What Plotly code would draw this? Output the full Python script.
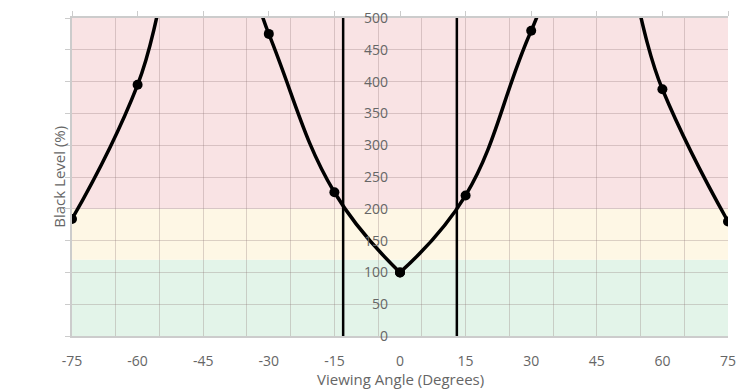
import plotly.graph_objects as go

angles = [-75, -60, -45, -30, -15, 0, 15, 30, 45, 60, 75]
black_level = [184, 395, 740, 475, 226, 100, 221, 480, 690, 388, 180]
cutoff_angles = [-13, 13]
x_ticks = [-75, -60, -45, -30, -15, 0, 15, 30, 45, 60, 75]
y_ticks = [0, 50, 100, 150, 200, 250, 300, 350, 400, 450, 500]
bands = [(0, 120, "#e3f4e9"), (120, 200, "#fef7e5"), (200, 500, "#f9e3e4")]

fig = go.Figure()

for y0, y1, col in bands:
    fig.add_shape(type="rect", xref="x", yref="y", x0=-75, x1=75, y0=y0, y1=y1,
                  fillcolor=col, line_width=0, layer="below")

for xa in cutoff_angles:
    fig.add_trace(go.Scatter(x=[xa, xa], y=[0, 500], mode="lines",
                             line=dict(color="black", width=2.5),
                             showlegend=False, hoverinfo="skip", cliponaxis=True))

mid = angles.index(0)
for sl in (slice(0, mid + 1), slice(mid, None)):
    fig.add_trace(go.Scatter(x=angles[sl], y=black_level[sl], mode="lines+markers",
                             line=dict(color="black", width=3.5, shape="spline", smoothing=1.2),
                             marker=dict(color="black", size=10),
                             showlegend=False, cliponaxis=True))

# invisible trace for top / left tick axes
fig.add_trace(go.Scatter(x=[-75, 75], y=[0, 0], xaxis="x2", yaxis="y2",
                         mode="markers", marker=dict(opacity=0), showlegend=False,
                         hoverinfo="skip"))

grid_col = "rgba(140,115,115,0.3)"
fig.update_layout(
    width=748, height=382,
    margin=dict(l=64, r=28, t=10, b=54, autoexpand=False),
    paper_bgcolor="white", plot_bgcolor="white",
    font=dict(family="Open Sans", color="#666666", size=14),
    xaxis=dict(range=[-75, 75], tickvals=x_ticks, ticktext=[str(v) for v in x_ticks],
               showgrid=False, zeroline=False, showline=True, linecolor="#cccccc",
               linewidth=1.5, ticks="", ticklabelstandoff=11, automargin=False,
               tickfont=dict(size=14, color="#666666"),
               minor=dict(tick0=-75, dtick=10, showgrid=True, gridcolor=grid_col, gridwidth=1.3)),
    xaxis2=dict(range=[-75, 75], overlaying="x", side="top", anchor="y",
                tickvals=x_ticks, showticklabels=False, ticks="outside", ticklen=5,
                tickcolor="#cccccc", showgrid=False, zeroline=False, showline=True,
                linecolor="#cccccc", linewidth=1.5, automargin=False),
    yaxis=dict(range=[0, 500], tickvals=y_ticks, showgrid=True, gridcolor=grid_col,
               gridwidth=1.3, zeroline=False, showline=False, anchor="free", position=0.5,
               ticks="", ticklabelstandoff=12, automargin=False, ticklabeloverflow="allow",
               tickfont=dict(size=14, color="#666666")),
    yaxis2=dict(range=[0, 500], overlaying="y", side="left", anchor="x",
                tickvals=y_ticks, showticklabels=False, ticks="outside", ticklen=5,
                tickcolor="#cccccc", showgrid=False, zeroline=False, showline=True,
                linecolor="#cccccc", linewidth=1.5, automargin=False),
    annotations=[
        dict(text="Black Level (%)", xref="paper", yref="paper", x=-0.002, y=0.5,
             xanchor="right", yanchor="middle", textangle=-90, showarrow=False,
             font=dict(size=15, color="#666666")),
        dict(text="Viewing Angle (Degrees)", xref="paper", yref="paper", x=0.5, y=0,
             yshift=-43, xanchor="center", yanchor="middle", showarrow=False,
             font=dict(size=15, color="#666666")),
    ],
)

fig.write_html("out.html")
